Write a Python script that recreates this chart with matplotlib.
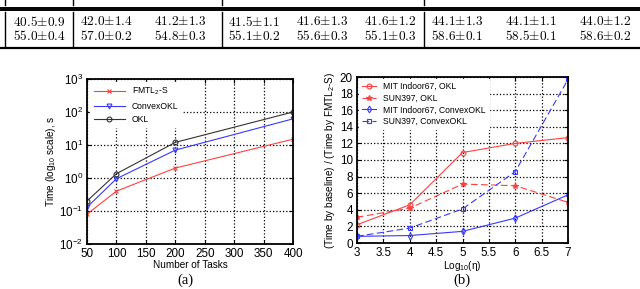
import matplotlib
matplotlib.use("Agg")
import matplotlib.pyplot as plt
import numpy as np
from matplotlib.ticker import LogLocator, NullLocator, MultipleLocator

plt.rcParams['font.family'] = ['Liberation Sans', 'DejaVu Sans']
plt.rcParams['mathtext.fontset'] = 'custom'
plt.rcParams['mathtext.rm'] = 'Liberation Sans'
plt.rcParams['mathtext.it'] = 'Liberation Sans:italic'

# ---- table data ----
row1 = ["40.5±0.9", "42.0±1.4", "41.2±1.3", "41.5±1.1", "41.6±1.3", "41.6±1.2", "44.1±1.3", "44.1±1.1", "44.0±1.2"]
row2 = ["55.0±0.4", "57.0±0.2", "54.8±0.3", "55.1±0.2", "55.6±0.3", "55.1±0.3", "58.6±0.1", "58.5±0.1", "58.6±0.2"]
bold_cols = [6, 8]

# ---- chart (a) data ----
tasks = [50, 100, 200, 400]
fmtl = [0.08, 0.4, 2.0, 15]
convex = [0.13, 0.95, 7.0, 62]
okl = [0.2, 1.35, 12, 100]

# ---- chart (b) data ----
log_eta = [3, 4, 5, 6, 7]
mit_okl = [2.2, 4.6, 10.9, 12.0, 12.7]
sun_okl = [3.1, 4.2, 7.1, 6.9, 4.9]
mit_cvx = [0.8, 0.9, 1.4, 3.0, 5.8]
sun_cvx = [0.8, 1.8, 4.1, 8.6, 19.7]

W, H = 640, 289
fig = plt.figure(figsize=(W / 100, H / 100), dpi=100)

def px(x, y):
    return x / W, 1 - y / H

# table lines
for y, lw in [(7.5, 1.4), (10.2, 1.4), (47.5, 1.6)]:
    fig.add_artist(plt.Line2D([0, 1], [1 - y / H, 1 - y / H], color='black', lw=lw))
for x in [5, 73, 222, 424]:
    fig.add_artist(plt.Line2D([x / W, x / W], [1 - 12 / H, 1 - 46 / H], color='black', lw=1.0))
    fig.add_artist(plt.Line2D([x / W, x / W], [1 - 0 / H, 1 - 5 / H], color='black', lw=1.0))
col_x = [13, 80, 154, 228, 296, 364, 431, 505, 579]
for i, cx in enumerate(col_x):
    for y, row in [(21.5, row1), (35.5, row2)]:
        t = row[i]
        a, b = t.split("±")
        s = r"$%s{\pm}%s$" % (a, b)
        if y > 30 and i in bold_cols:
            s = r"$\mathbf{%s}{\pm}\mathbf{%s}$" % (a, b)
        fig.text(*px(cx, y), s, ha='left', va='center', fontsize=9.6, math_fontfamily='cm')

def style_axes(ax):
    for sp in ax.spines.values():
        sp.set_linewidth(1.3)
    ax.tick_params(direction='in', top=True, right=True, length=3, width=0.8, labelsize=8.4, pad=3)
    ax.grid(True, which='major', color='black', linestyle=':', linewidth=0.9)
    ax.set_axisbelow(True)

# ---- chart (a) ----
ax1 = fig.add_axes([87 / W, 1 - 244 / H, (293 - 87) / W, (244 - 79) / H])
ax1.plot(tasks, fmtl, color='#ff4040', lw=0.8, marker='x', ms=3, mew=0.8, label='FMTL$_2$-S')
ax1.plot(tasks, convex, color='#3838ff', lw=0.8, marker='v', ms=3.5, mfc='none', mew=0.8, label='ConvexOKL')
ax1.plot(tasks, okl, color='#333333', lw=0.8, marker='o', ms=3.5, mfc='none', mew=0.8, label='OKL')
ax1.set_yscale('log')
ax1.set_xlim(50, 400)
ax1.set_ylim(1e-2, 1e3)
ax1.set_xticks(np.arange(50, 401, 50))
ax1.yaxis.set_major_locator(LogLocator(base=10, numticks=10))
ax1.yaxis.set_minor_locator(NullLocator())
style_axes(ax1)
ax1.set_xlabel('Number of Tasks', fontsize=7.2, labelpad=0)
ax1.set_ylabel('Time (log$_{10}$ scale), s', fontsize=7.2)
ax1.yaxis.set_label_coords((58 - 87) / 206, 0.5)
leg1 = ax1.legend(loc='upper left', fontsize=6.2, frameon=True, handlelength=3.6, labelspacing=0.5,
                  borderaxespad=0.4, fancybox=False, edgecolor='white', framealpha=1)

# ---- chart (b) ----
ax2 = fig.add_axes([357 / W, 1 - 243 / H, (568 - 357) / W, (243 - 77) / H])
ax2.plot(log_eta, mit_okl, color='#ff4040', lw=0.8, ls='-', marker='o', ms=3.5, mfc='none', mew=0.8, label='MIT Indoor67, OKL')
ax2.plot(log_eta, sun_okl, color='#ff4040', lw=0.8, ls=(0, (6, 3)), marker='*', ms=4, mew=0.8, label='SUN397, OKL')
ax2.plot(log_eta, mit_cvx, color='#3838ff', lw=0.8, ls='-', marker='d', ms=3.5, mfc='none', mew=0.8, label='MIT Indoor67, ConvexOKL')
ax2.plot(log_eta, sun_cvx, color='#3838ff', lw=0.8, ls=(0, (6, 3)), marker='s', ms=3, mfc='none', mew=0.8, label='SUN397, ConvexOKL')
ax2.set_xlim(3, 7)
ax2.set_ylim(0, 20)
ax2.xaxis.set_major_locator(MultipleLocator(0.5))
ax2.yaxis.set_major_locator(MultipleLocator(2))
ax2.set_xticklabels([('%g' % v) for v in ax2.get_xticks()])
style_axes(ax2)
ax2.set_xlabel('Log$_{10}$(η)', fontsize=7.2, labelpad=0)
ax2.set_ylabel('(Time by baseline) / (Time by FMTL$_2$-S)', fontsize=7.2)
ax2.yaxis.set_label_coords((337 - 357) / 211, 0.5)
leg2 = ax2.legend(loc='upper left', fontsize=6.2, frameon=True, handlelength=1.6, labelspacing=0.3,
                  borderaxespad=0.2, fancybox=False, edgecolor='white', framealpha=1)

fig.text(*px(185, 280), '(a)', ha='center', va='center', fontsize=10.5, family='Liberation Serif')
fig.text(*px(462, 280), '(b)', ha='center', va='center', fontsize=10.5, family='Liberation Serif')

fig.savefig('out.png', dpi=100)
